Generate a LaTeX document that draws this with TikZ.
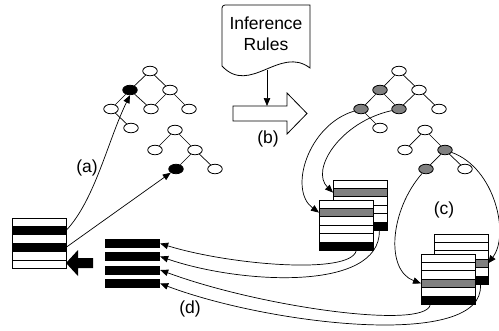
\documentclass[tikz,border=0pt]{standalone}
\usepackage{fontspec}
\setmainfont{Liberation Sans}
\usetikzlibrary{arrows.meta,shapes.geometric,calc}
\definecolor{greyfill}{RGB}{128,128,128}
\newcommand\mktable[4]{%
  \foreach \rc [count=\ri from 0] in {#4} {
    \path[fill=\rc,draw=black,line width=0.8pt] (#2,#3+\ri*8.4) rectangle ++(54,8.4);
    \coordinate (#1-l\ri) at (#2,#3+\ri*8.4+4.2);
    \coordinate (#1-r\ri) at (#2+54,#3+\ri*8.4+4.2);
  }
  \node[minimum width=54pt,minimum height=50.4pt,inner sep=0pt,anchor=north west] (#1) at (#2,#3) {};
}
\begin{document}
\begin{tikzpicture}[x=1pt,y=-1pt,
  tn/.style={ellipse,draw,line width=0.8pt,fill=white,minimum width=14.5pt,minimum height=9.5pt,inner sep=0pt},
  bn/.style={tn,fill=black},
  gn/.style={tn,fill=greyfill},
  edge/.style={line width=0.7pt},
  conn/.style={line width=0.7pt,-{Triangle[length=8pt,width=6.5pt]}},
  lbl/.style={font=\fontsize{17.5}{21}\selectfont,inner sep=0pt},
  bar/.style={fill=black,minimum width=55pt,minimum height=9pt,inner sep=0pt}
]
\useasboundingbox (0,0) rectangle (499,330);

% ---- tree 1
\node[tn] (t1a) at (150,71) {};
\node[bn] (t1b) at (130,90) {};
\node[tn] (t1c) at (170,90) {};
\node[tn] (t1d) at (111,109) {};
\node[tn] (t1e) at (151,109) {};
\node[tn] (t1f) at (189,109) {};
\node[tn] (t1g) at (131,128) {};
\draw[edge] (t1a)--(t1b) (t1a)--(t1c) (t1b)--(t1d) (t1b)--(t1e) (t1c)--(t1e) (t1c)--(t1f) (t1d)--(t1g);
% ---- tree 2
\node[tn] (t2a) at (175,130) {};
\node[tn] (t2b) at (155,150) {};
\node[tn] (t2c) at (195,150) {};
\node[bn] (t2d) at (176,169) {};
\node[tn] (t2e) at (215,169) {};
\draw[edge] (t2a)--(t2b) (t2a)--(t2c) (t2c)--(t2d) (t2c)--(t2e);
% ---- tree 3
\node[tn] (t3a) at (399,71) {};
\node[gn] (t3b) at (380,90) {};
\node[tn] (t3c) at (419,90) {};
\node[gn] (t3d) at (361,109) {};
\node[gn] (t3e) at (399,109) {};
\node[tn] (t3f) at (439,109) {};
\node[tn] (t3g) at (380,128) {};
\draw[edge] (t3a)--(t3b) (t3a)--(t3c) (t3b)--(t3d) (t3b)--(t3e) (t3c)--(t3e) (t3c)--(t3f) (t3d)--(t3g);
% ---- tree 4
\node[tn] (t4a) at (425,130) {};
\node[tn] (t4b) at (405,150) {};
\node[gn] (t4c) at (445,150) {};
\node[gn] (t4d) at (426,169) {};
\node[tn] (t4e) at (465,169) {};
\draw[edge] (t4a)--(t4b) (t4a)--(t4c) (t4c)--(t4d) (t4c)--(t4e);

% ---- inference rules document
\draw[line width=0.8pt,fill=white] (222,66) -- (222,8) [rounded corners=3pt] -- (222,5) [sharp corners] -- (310,5) -- (310,68)
  .. controls (280,45) and (250,96) .. (222,66) -- cycle;
\node[lbl,align=center] (rules) at (266,34) {Inference\\Rules};
\coordinate (docbot) at (267,70);
% ---- big arrow (b)
\draw[line width=0.8pt,fill=white] (233,106) -- (287,106) -- (287,93) -- (307,113.5) -- (287,134) -- (287,121) -- (233,121) -- cycle;
\coordinate (arrtop) at (267,106);
\draw[conn] (docbot) -- (arrtop);

% ---- tables
\mktable{tL}{12}{218}{white,black,white,black,white,white}
\mktable{tAb}{333}{180}{white,greyfill,white,white,white,black}
\mktable{tAf}{319}{200}{white,greyfill,white,white,white,black}
\mktable{tBb}{434}{234}{white,white,white,greyfill,white,black}
\mktable{tBf}{421}{254}{white,white,white,greyfill,white,black}

% ---- thick arrow
\fill (66,263) -- (78,250) -- (78,258) -- (93,258) -- (93,268) -- (78,268) -- (78,276) -- cycle;

% ---- bars
\node[bar] (bar1) at (132.5,243.5) {};
\node[bar] (bar2) at (132.5,256.5) {};
\node[bar] (bar3) at (132.5,270) {};
\node[bar] (bar4) at (132.5,283.5) {};

% ---- (a) arrows
\draw[conn] (tL-r1) .. controls (95,200) and (108,140) .. (t1b.south);
\draw[conn] (tL-r3) -- (t2d);

% ---- (c) arrows
\draw[conn] (t3d) .. controls (308,125) and (288,190) .. (tAf-l1);
\draw[conn] (t3e) .. controls (340,122) and (310,170) .. (tAb-l1);
\draw[conn] (t4c) .. controls (495,168) and (510,235) .. (tBb-r3);
\draw[conn] (t4d) .. controls (390,210) and (385,270) .. (tBf-l3);

% ---- (d) arrows
\draw[conn] ([xshift=10pt]tAf.south) .. controls (350,275) and (230,265) .. (bar1.east);
\draw[conn] ([xshift=-8pt]tAb.south east) .. controls (380,292) and (240,284) .. (bar2.east);
\draw[conn] ([xshift=-18pt]tBf.south) .. controls (425,330) and (260,307) .. (bar3.east);
\draw[conn] ([xshift=-8pt]tBb.south east) .. controls (485,350) and (270,325) .. (bar4.east);

% ---- labels
\node[lbl] (la) at (87,168) {(a)};
\node[lbl] (lb) at (268,139) {(b)};
\node[lbl] (lc) at (444,210) {(c)};
\node[lbl] (ld) at (190,309) {(d)};
\end{tikzpicture}
\end{document}
